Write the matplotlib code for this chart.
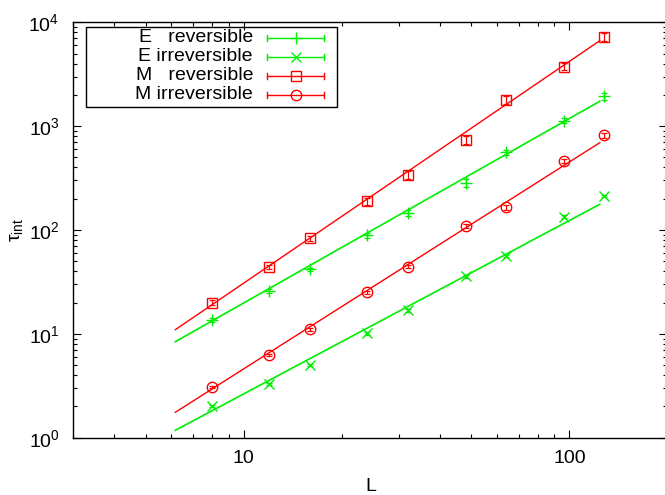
import numpy as np
import matplotlib
matplotlib.use("Agg")
import matplotlib.pyplot as plt
from matplotlib.lines import Line2D
from matplotlib.patches import Rectangle

plt.rcParams['font.family'] = ['Liberation Sans', 'DejaVu Sans']
plt.rcParams['mathtext.fontset'] = 'custom'
plt.rcParams['mathtext.rm'] = 'Liberation Sans'
plt.rcParams['mathtext.it'] = 'Liberation Sans'

# ---- data ----
L = [8, 12, 16, 24, 32, 48, 64, 96, 128]
E_rev = [13.6, 26.0, 41.8, 89, 146, 285, 560, 1125, 1940]
E_rev_err = [0.5, 1.0, 1.5, 5, 10, 28, 30, 60, 150]
E_irr = [2.02, 3.27, 5.01, 10.1, 16.9, 35.8, 56, 134, 212]
E_irr_err = [0.05, 0.08, 0.12, 0.3, 0.5, 1.0, 1.5, 4, 6]
M_rev = [20.0, 43.7, 83, 190, 341, 740, 1790, 3750, 7250]
M_rev_err = [1.0, 2.0, 5, 15, 30, 70, 160, 300, 700]
M_irr = [3.10, 6.3, 11.06, 25.1, 44.3, 110, 165, 459, 817]
M_irr_err = [0.08, 0.15, 0.3, 0.7, 1.5, 5, 10, 20, 45]

# fitted straight lines (end points on log-log axes)
fit_L = [6.17, 124]
fit_E_rev = [8.4, 1735]
fit_E_irr = [1.178, 176.8]
fit_M_rev = [10.96, 6650]
fit_M_irr = [1.756, 693]

labels = ['E   reversible', 'E irreversible', 'M   reversible', 'M irreversible']
x_ticks = [10, 100]
x_ticklabels = ['10', '100']
y_ticks = [1, 10, 100, 1000, 10000]
y_ticklabels = [r'$10^{0}$', r'$10^{1}$', r'$10^{2}$', r'$10^{3}$', r'$10^{4}$']

RED = '#ff0000'
GREEN = '#00ee00'
FS = 14

W, H = 665, 495
fig = plt.figure(figsize=(W / 100, H / 100), dpi=100)
ax_l, ax_r, ax_t, ax_b = 73.3, 667.4, 22.3, 437.7
ax = fig.add_axes([ax_l / W, 1 - ax_b / H, (ax_r - ax_l) / W, (ax_b - ax_t) / H])
ax.set_xscale('log')
ax.set_yscale('log')
ax.set_xlim(3, 200)
ax.set_ylim(1, 10000)

series = [
    (E_rev, E_rev_err, fit_E_rev, GREEN, '+', 9, 1.0),
    (E_irr, E_irr_err, fit_E_irr, GREEN, 'x', 7.5, 1.0),
    (M_rev, M_rev_err, fit_M_rev, RED, 's', 7.5, 1.0),
    (M_irr, M_irr_err, fit_M_irr, RED, 'o', 7.5, 1.0),
]
for vals, errs, fitv, col, mk, ms, lw in series:
    ax.plot(fit_L, fitv, color=col, lw=1.2 if col == GREEN else 1.0, zorder=2)
    ax.errorbar(L, vals, yerr=errs, fmt='none', ecolor=col, elinewidth=0.9,
                capsize=2.5, capthick=0.9, zorder=3)
    ax.plot(L, vals, ls='none', marker=mk, ms=ms, mfc='none', mec=col,
            mew=1.0, zorder=4)

ax.set_xticks(x_ticks)
ax.set_xticklabels(x_ticklabels)
ax.set_yticks(y_ticks)
ax.set_yticklabels(y_ticklabels)
ax.tick_params(which='both', direction='in', top=True, right=True,
               labelsize=FS, colors='black', width=0.8)
ax.tick_params(which='major', length=5.5, pad=9)
ax.tick_params(which='minor', length=3)
ax.tick_params(axis='y', which='major', pad=10)
for s in ax.spines.values():
    s.set_linewidth(1.0)

ax.set_xlabel('L', fontsize=FS, va='center')
ax.xaxis.set_label_coords(0.5, -0.118)
ax.set_ylabel(r'τ$_{\rm int}$', fontsize=FS, va='center')
ax.yaxis.set_label_coords(-0.095, 0.5)

# ---- gnuplot style key ----
def fx(px):
    return px / W

def fy(py):
    return 1 - py / H

fig.patches.append(Rectangle((fx(86), fy(107.3)), fx(337) - fx(86), fy(27.3) - fy(107.3),
                             transform=fig.transFigure, fill=False, ec='black', lw=1.0))
rows = [37.5, 56.5, 75.5, 94.5]
for (vals, errs, fitv, col, mk, ms, lw), lab, ry in zip(series, labels, rows):
    fig.text(fx(253), fy(ry), lab, ha='right', va='center', fontsize=FS)
    fig.add_artist(Line2D([fx(267), fx(324)], [fy(ry), fy(ry)], color=col, lw=1.0,
                          transform=fig.transFigure))
    for ex in (267, 324):
        fig.add_artist(Line2D([fx(ex), fx(ex)], [fy(ry - 3), fy(ry + 3)], color=col, lw=1.0,
                              transform=fig.transFigure))
    fig.add_artist(Line2D([fx(295.5)], [fy(ry)], ls='none', marker=mk, ms=ms,
                          mfc='none', mec=col, mew=1.0, transform=fig.transFigure))

fig.savefig('out.png', dpi=100)
